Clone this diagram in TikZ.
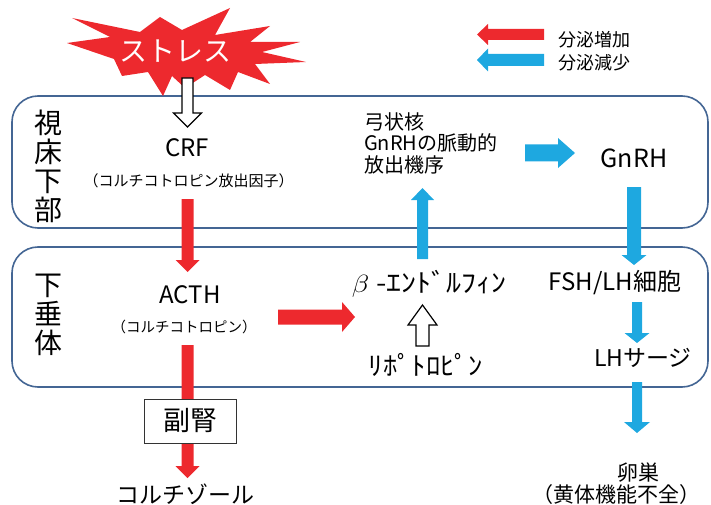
\documentclass[tikz,border=0pt]{standalone}
\usepackage{fontspec}
\setmainfont{Noto Sans CJK JP}
\usetikzlibrary{calc}
\definecolor{upred}{RGB}{237,41,46}
\definecolor{downblue}{RGB}{30,168,224}
\definecolor{boxblue}{RGB}{68,102,148}
\newcommand{\fatarr}[6]{%
  \coordinate (fa-h) at ($(#3)!#6!(#2)$);
  \path[#1] ($(#2)!#4!90:(#3)$) -- ($(fa-h)!#4!-90:(#2)$) -- ($(fa-h)!#5!-90:(#2)$) -- (#3)
    -- ($(fa-h)!#5!90:(#2)$) -- ($(fa-h)!#4!90:(#2)$) -- ($(#2)!#4!-90:(#3)$) -- cycle;}
\tikzset{
  region/.style={draw=boxblue, line width=1.6pt, rounded corners=26pt},
  redarr/.style={fill=upred},
  bluearr/.style={fill=downblue},
  openarr/.style={fill=white, draw=black, line width=1.2pt, line join=miter},
  lbl/.style={inner sep=0pt, align=center},
}
\begin{document}
\begin{tikzpicture}[x=1pt, y=-1pt]
\useasboundingbox (0,0) rectangle (711,505);
% regions
\draw[region] (12,96) rectangle (708,228);
\draw[region] (12,247) rectangle (708,387);
% starburst
\fill[upred] (72,18) -- (140,32) -- (160,17) -- (182,30) -- (230,8) -- (215,35) -- (270,26)
  -- (250,42) -- (300,42) -- (262,52) -- (306,62) -- (255,64) -- (270,84) -- (238,72)
  -- (230,90) -- (205,75) -- (185,88) -- (172,76) -- (163,96) -- (148,72) -- (122,76)
  -- (114,59) -- (67,43) -- (110,37) -- cycle;
\node[lbl, text=white, font=\fontsize{28}{28}\selectfont] (stress) at (175,51) {ストレス};
% coordinates for connectors
\coordinate (s1) at (187.5,78);   \coordinate (e1) at (187.5,127);
\coordinate (s2) at (187.5,199);  \coordinate (e2) at (187.5,272);
\coordinate (s3) at (187.5,345);  \coordinate (e3) at (187.5,478);
\coordinate (s4) at (278,317);    \coordinate (e4) at (355,317);
\coordinate (s5) at (422.5,346);  \coordinate (e5) at (422.5,305);
\coordinate (s6) at (422.5,259);  \coordinate (e6) at (422.5,188);
\coordinate (s7) at (525,153);    \coordinate (e7) at (575,153);
\coordinate (s8) at (634,187);    \coordinate (e8) at (634,265);
\coordinate (s9) at (637,302);    \coordinate (e9) at (637,343);
\coordinate (s10) at (637,382);   \coordinate (e10) at (637,433);
\coordinate (ls1) at (544,34.5);  \coordinate (le1) at (477,34.5);
\coordinate (ls2) at (544,60);    \coordinate (le2) at (477,60);
% arrows
\fatarr{openarr}{s1}{e1}{5.5pt}{14pt}{14pt}
\fatarr{redarr}{s2}{e2}{6pt}{12pt}{12pt}
\fatarr{redarr}{s3}{e3}{6pt}{12pt}{12pt}
\fatarr{redarr}{s4}{e4}{7.5pt}{15pt}{13pt}
\fatarr{openarr}{s5}{e5}{6.5pt}{14.5pt}{20pt}
\fatarr{bluearr}{s6}{e6}{5.5pt}{11.5pt}{12pt}
\fatarr{bluearr}{s7}{e7}{8.5pt}{15pt}{17pt}
\fatarr{bluearr}{s8}{e8}{7pt}{12.5pt}{10pt}
\fatarr{bluearr}{s9}{e9}{5pt}{12.5pt}{10pt}
\fatarr{bluearr}{s10}{e10}{5pt}{13pt}{11pt}
\fatarr{redarr}{ls1}{le1}{5.5pt}{10.5pt}{11pt}
\fatarr{bluearr}{ls2}{le2}{6pt}{11.5pt}{11pt}
% legend text
\node[lbl, anchor=west, font=\fontsize{18}{18}\selectfont] (leg1) at (558,40) {分泌増加};
\node[lbl, anchor=west, font=\fontsize{18}{18}\selectfont] (leg2) at (558,63) {分泌減少};
% region labels
\node[lbl, font=\fontsize{28}{29}\selectfont] (hyp) at (48,166) {視\\床\\下\\部};
\node[lbl, font=\fontsize{28}{29}\selectfont] (pit) at (48,315) {下\\垂\\体};
% texts
\node[lbl, font=\fontsize{24}{24}\selectfont] (crf) at (187,148) {CRF};
\node[lbl, font=\fontsize{15}{15}\selectfont] (crfsub) at (188.5,181) {（コルチコトロピン放出因子）};
\node[lbl, font=\fontsize{24}{24}\selectfont] (acth) at (190,295) {ACTH};
\node[lbl, font=\fontsize{14.5}{14.5}\selectfont] (acthsub) at (184,327) {（コルチコトロピン）};
\node[lbl, draw=black!80, line width=0.8pt, fill=white, minimum width=92pt, minimum height=44pt,
  font=\fontsize{27}{27}\selectfont] (adrenal) at (190,421) {副腎};
\node[lbl, font=\fontsize{23}{23}\selectfont] (cortisol) at (185,494) {コルチゾール};
\node[lbl, font=\fontsize{26}{26}\selectfont] (endo) at (429,284) {\scalebox{1.15}[1]{$\beta$ -ｴﾝﾄﾞﾙﾌｨﾝ}};
\node[lbl, font=\fontsize{26}{26}\selectfont] (lipo) at (426,365) {\scalebox{1.1}[1]{ﾘﾎﾟﾄﾛﾋﾟﾝ}};
\node[lbl, anchor=west, align=left, font=\fontsize{20}{21.5}\selectfont] (arc) at (364,143) {弓状核\\GnRHの脈動的\\放出機序};
\node[lbl, font=\fontsize{25}{25}\selectfont] (gnrh) at (634,158) {GnRH};
\node[lbl, font=\fontsize{24}{24}\selectfont] (fsh) at (615,283) {FSH/LH細胞};
\node[lbl, font=\fontsize{23}{23}\selectfont] (lhs) at (643,358) {LHサージ};
\node[lbl, font=\fontsize{21}{21}\selectfont] (ovary) at (638,473) {卵巣};
\node[lbl, font=\fontsize{21}{21}\selectfont] (ovsub) at (616,495) {（黄体機能不全）};
\end{tikzpicture}
\end{document}
